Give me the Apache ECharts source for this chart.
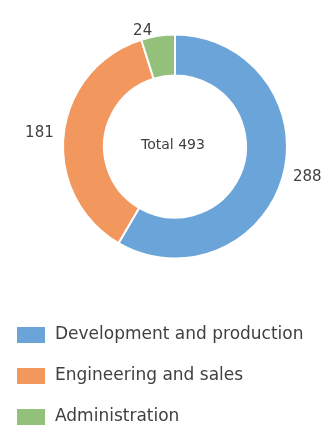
<!DOCTYPE html>
<html><head><meta charset="utf-8">
<script src="https://cdn.jsdelivr.net/npm/echarts@6/dist/echarts.min.js"></script>
<style>html,body{margin:0;padding:0;background:#fff}#c{width:322px;height:425px}</style>
</head><body><div id="c"></div>
<script>
const categories = ['Development and production', 'Engineering and sales', 'Administration'];
const values = [288, 181, 24];
const colors = ['#6aa4d8', '#f2985f', '#93c07a'];
const total = values.reduce((a, b) => a + b, 0);
const font = 'DejaVu Sans, Liberation Sans, sans-serif';
const chart = echarts.init(document.getElementById('c'), null, {renderer: 'canvas'});
chart.setOption({
  animation: false,
  color: colors,
  legend: {
    orient: 'vertical', left: 15, top: 325, padding: 0, height: 150, width: 300,
    itemWidth: 30, itemHeight: 18, itemGap: 21,
    icon: 'rect',
    textStyle: {fontSize: 17, lineHeight: 18, color: '#404040', fontFamily: font, padding: [0, 0, 0, 4]},
    data: categories
  },
  graphic: [{
    type: 'text', x: 173, y: 145,
    style: {text: 'Total ' + total, fontSize: 14, fill: '#404040', fontFamily: font, textAlign: 'center', textVerticalAlign: 'middle'}
  }],
  series: [{
    type: 'pie',
    center: [175, 146.5],
    radius: [71, 112],
    startAngle: 90,
    clockwise: true,
    avoidLabelOverlap: false,
    itemStyle: {borderColor: '#fff', borderWidth: 2},
    label: {show: true, position: 'outside', formatter: '{c}', fontSize: 15, color: '#404040', fontFamily: font},
    labelLine: {show: false, length: 5, length2: 0},
    emphasis: {disabled: true},
    data: categories.map((n, i) => ({name: n, value: values[i]}))
  }]
});
</script></body></html>
